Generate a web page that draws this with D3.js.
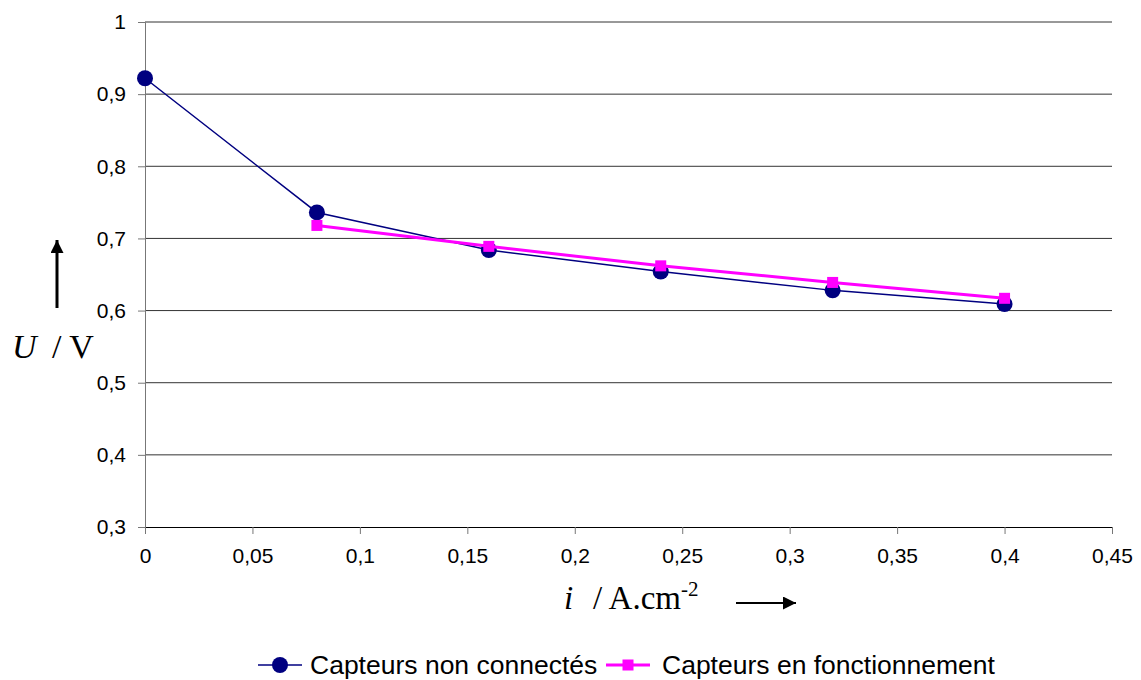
<!DOCTYPE html>
<html><head><meta charset="utf-8">
<script src="https://cdn.jsdelivr.net/npm/d3@7"></script>
<style>body{margin:0;background:#fff}svg{display:block}</style>
</head><body><svg id="c" width="1141" height="680"></svg>
<script>
const xValues = [0, 0.08, 0.16, 0.24, 0.32, 0.40];
const seriesNonConnectes = [0.922, 0.736, 0.684, 0.654, 0.628, 0.609];
const xValues2 = [0.08, 0.16, 0.24, 0.32, 0.40];
const seriesFonctionnement = [0.718, 0.689, 0.662, 0.639, 0.617];
const xTicks = [0, 0.05, 0.1, 0.15, 0.2, 0.25, 0.3, 0.35, 0.4, 0.45];
const yTicks = [0.3, 0.4, 0.5, 0.6, 0.7, 0.8, 0.9, 1];
const seriesNames = ["Capteurs non connectés", "Capteurs en fonctionnement"];

const svg = d3.select("#c");
const x = d3.scaleLinear().domain([0, 0.45]).range([145, 1112]);
const y = d3.scaleLinear().domain([0.3, 1]).range([527, 22]);
const fmt = d => String(+d.toFixed(2)).replace(".", ",");

// gridlines
svg.append("g").selectAll("line").data(yTicks.filter(d => d > 0.3)).join("line")
  .attr("x1", x(0)).attr("x2", x(0.45)).attr("y1", d => y(d)).attr("y2", d => y(d))
  .attr("stroke", "#333").attr("stroke-width", 1);

// y axis
const ya = svg.append("g").attr("transform", `translate(${x(0)},0)`)
  .call(d3.axisLeft(y).tickValues(yTicks).tickFormat(fmt).tickSize(7).tickPadding(12));
ya.select(".domain").attr("stroke", "#777");
ya.selectAll(".tick line").attr("stroke", "#777");
ya.selectAll("text").attr("font-family", "Liberation Sans, Arial, sans-serif").attr("font-size", 21).attr("fill", "#000");

// x axis
const xa = svg.append("g").attr("transform", `translate(0,${y(0.3)})`)
  .call(d3.axisBottom(x).tickValues(xTicks).tickFormat(fmt).tickSize(7).tickPadding(14));
xa.select(".domain").attr("stroke", "#000");
xa.selectAll(".tick line").attr("stroke", "#777");
xa.selectAll("text").attr("font-family", "Liberation Sans, Arial, sans-serif").attr("font-size", 21).attr("fill", "#000");

const navy = "#000080", mag = "#ff00ff";
const d1 = xValues.map((v, i) => [v, seriesNonConnectes[i]]);
const d2 = xValues2.map((v, i) => [v, seriesFonctionnement[i]]);
const line = d3.line().x(d => x(d[0])).y(d => y(d[1]));

svg.append("path").datum(d1).attr("d", line).attr("fill", "none").attr("stroke", navy).attr("stroke-width", 1.5);
svg.append("g").selectAll("circle").data(d1).join("circle")
  .attr("cx", d => x(d[0])).attr("cy", d => y(d[1])).attr("r", 8).attr("fill", navy);
svg.append("path").datum(d2).attr("d", line).attr("fill", "none").attr("stroke", mag).attr("stroke-width", 3);
svg.append("g").selectAll("rect").data(d2).join("rect")
  .attr("x", d => x(d[0]) - 5.5).attr("y", d => y(d[1]) - 5.5).attr("width", 11).attr("height", 11).attr("fill", mag);

// arrows
svg.append("defs").append("marker").attr("id", "ah").attr("viewBox", "0 0 10 10")
  .attr("refX", 10).attr("refY", 5).attr("markerWidth", 14).attr("markerHeight", 13)
  .attr("markerUnits", "userSpaceOnUse")
  .attr("orient", "auto").append("path").attr("d", "M0,0L10,5L0,10Z").attr("fill", "#000");
svg.append("line").attr("x1", 57).attr("y1", 308).attr("x2", 57).attr("y2", 240)
  .attr("stroke", "#000").attr("stroke-width", 3).attr("marker-end", "url(#ah)");
svg.append("line").attr("x1", 736).attr("y1", 603).attr("x2", 796).attr("y2", 603)
  .attr("stroke", "#000").attr("stroke-width", 2).attr("marker-end", "url(#ah)");

// axis titles
const serif = "Liberation Serif, Times New Roman, serif";
svg.append("text").attr("x", 12).attr("y", 358).attr("font-family", serif).attr("font-size", 34)
  .attr("font-style", "italic").attr("fill", "#000").text("U");
svg.append("text").attr("x", 52).attr("y", 358).attr("font-family", serif).attr("font-size", 34)
  .attr("fill", "#000").text("/ V");
svg.append("text").attr("x", 564).attr("y", 609).attr("font-family", serif).attr("font-size", 33)
  .attr("font-style", "italic").attr("fill", "#000").text("i");
const xt = svg.append("text").attr("x", 593).attr("y", 609).attr("font-family", serif).attr("font-size", 33).attr("fill", "#000");
xt.append("tspan").text("/ A.cm");
xt.append("tspan").attr("font-size", 21).attr("dy", -13).text("-2");

// legend
const sans = "Liberation Sans, Arial, sans-serif";
const lg = svg.append("g");
lg.append("line").attr("x1", 258).attr("x2", 302).attr("y1", 665).attr("y2", 665).attr("stroke", navy).attr("stroke-width", 1.5);
lg.append("circle").attr("cx", 280).attr("cy", 665).attr("r", 8).attr("fill", navy);
lg.append("text").attr("x", 310).attr("y", 674).text(seriesNames[0])
  .attr("font-family", sans).attr("font-size", 26.5).attr("fill", "#000");
lg.append("line").attr("x1", 606).attr("x2", 650).attr("y1", 665).attr("y2", 665).attr("stroke", mag).attr("stroke-width", 3);
lg.append("rect").attr("x", 622.5).attr("y", 659.5).attr("width", 11).attr("height", 11).attr("fill", mag);
lg.append("text").attr("x", 662).attr("y", 674).text(seriesNames[1])
  .attr("font-family", sans).attr("font-size", 26.5).attr("fill", "#000");
</script></body></html>
